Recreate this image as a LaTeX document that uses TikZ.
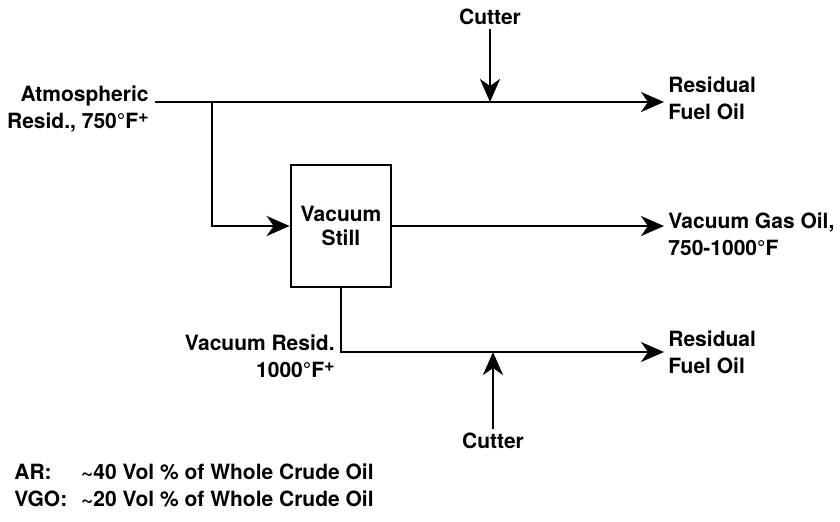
\documentclass[tikz,border=0pt]{standalone}
\usepackage{fontspec}
\setmainfont{TeX Gyre Heros}
\usetikzlibrary{arrows.meta,positioning}

\newcommand{\masgrados}{°F\raisebox{0.55ex}{\fontsize{9}{9}\selectfont+}}

\tikzset{
  flujo/.style={line width=1.35pt, -{Stealth[length=11.5pt,width=10pt,inset=3.5pt]}},
  etiqueta/.style={font=\fontsize{10.5}{13.5}\selectfont\bfseries, inner sep=2pt},
  torre/.style={draw, line width=1.35pt, minimum width=50pt, minimum height=61pt,
    align=center, font=\fontsize{10.5}{12}\selectfont\bfseries}
}

\begin{document}
\begin{tikzpicture}[x=0.5pt,y=-0.5pt]
  \useasboundingbox (0,0) rectangle (840,521);

  % Entrada de residuo atmosferico
  \node[etiqueta, align=right, anchor=east] (atm) at (153,109) {Atmospheric\\Resid., 750\masgrados};
  \coordinate (in) at (155,102);
  \coordinate (split) at (212,102);

  % Torre de vacio
  \node[torre] (still) at (341,226) {Vacuum\\Still};

  % Productos
  \node[etiqueta, align=left, anchor=west] (rfo1) at (664,98) {Residual\\Fuel Oil};
  \node[etiqueta, align=left, anchor=west] (vgo) at (664,234) {Vacuum Gas Oil,\\750-1000°F};
  \node[etiqueta, align=left, anchor=west] (rfo2) at (664,352) {Residual\\Fuel Oil};
  \node[etiqueta, align=right, anchor=east] (vr) at (339,356) {Vacuum Resid.\\1000\masgrados};

  % Diluyentes
  \node[etiqueta] (cut1) at (490,17) {Cutter};
  \node[etiqueta] (cut2) at (493,441) {Cutter};

  % Corrientes
  \draw[flujo] (in) -- (in -| rfo1.west);
  \draw[flujo] (split) |- (still.west);
  \draw[flujo] (still.east) -- (still.east -| vgo.west);
  \draw[flujo] (still.south) |- (rfo2.west);
  \draw[flujo] (cut1.south) -- (cut1 |- in);
  \draw[flujo] (cut2.north) -- (cut2 |- rfo2.west);

  % Nota
  \node[etiqueta, anchor=north west, inner sep=0pt] (nota) at (14,460) {%
    \begin{tabular}{@{}l@{\hspace{7pt}}l@{}}
      AR: & \textasciitilde40 Vol \% of Whole Crude Oil\\
      VGO: & \textasciitilde20 Vol \% of Whole Crude Oil
    \end{tabular}};
\end{tikzpicture}
\end{document}
